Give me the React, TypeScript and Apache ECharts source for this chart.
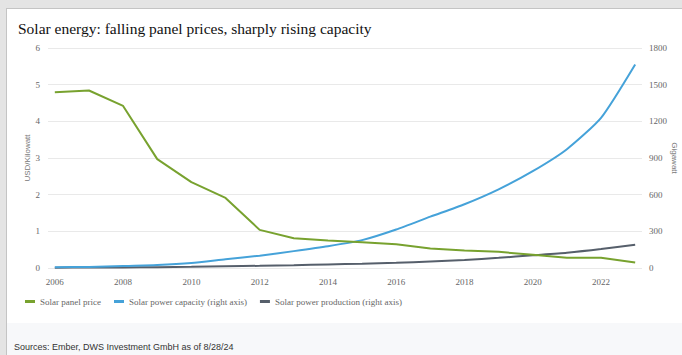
import React, { useEffect, useRef } from "react";
import * as echarts from "echarts";

const years = [2006, 2007, 2008, 2009, 2010, 2011, 2012, 2013, 2014, 2015, 2016, 2017, 2018, 2019, 2020, 2021, 2022, 2023];
const panelPrice = [4.79, 4.84, 4.42, 2.97, 2.34, 1.91, 1.04, 0.81, 0.75, 0.7, 0.65, 0.53, 0.48, 0.44, 0.36, 0.28, 0.28, 0.15];
const capacity = [6, 9, 16, 24, 41, 72, 101, 138, 178, 228, 315, 420, 522, 644, 792, 972, 1228, 1665];
const production = [3, 4, 5, 7, 10, 14, 18, 23, 29, 35, 42, 53, 65, 83, 104, 125, 155, 191];
const xTicks = [2006, 2008, 2010, 2012, 2014, 2016, 2018, 2020, 2022];

const GREEN = "#78a22f";
const BLUE = "#45a2d9";
const GREY = "#565f6b";
const SERIF = "'Liberation Serif', 'DejaVu Serif', serif";
const SANS = "'Liberation Sans', Arial, sans-serif";

export default function App() {
  const ref = useRef<HTMLDivElement>(null);
  useEffect(() => {
    document.body.style.margin = "0";
    const chart = echarts.init(ref.current!, null, { renderer: "svg" });
    const pair = (vals: number[]) => years.map((y, i) => [y, vals[i]]);
    chart.setOption({
      animation: false,
      title: {
        text: "Solar energy: falling panel prices, sharply rising capacity",
        left: 13,
        top: 15,
        textStyle: { fontFamily: SERIF, fontSize: 15.5, fontWeight: "normal", color: "#111" },
      },
      legend: {
        left: 20,
        top: 292,
        itemWidth: 10,
        itemHeight: 3,
        itemGap: 13,
        icon: "rect",
        textStyle: { fontFamily: SERIF, fontSize: 9, color: "#666" },
        data: ["Solar panel price", "Solar power capacity (right axis)", "Solar power production (right axis)"],
      },
      graphic: [
        {
          type: "text",
          left: 14,
          top: 342,
          style: { text: "Sources: Ember, DWS Investment GmbH as of 8/28/24", fontFamily: SANS, fontSize: 9, fill: "#333" },
        },
        {
          type: "text",
          x: 27,
          y: 158,
          rotation: Math.PI / 2,
          style: {
            text: "USD/Kilowatt",
            align: "center",
            verticalAlign: "middle",
            fontFamily: SANS,
            fontSize: 8,
            fill: "#777",
          },
        },
        {
          type: "text",
          x: 674,
          y: 158,
          rotation: -Math.PI / 2,
          style: {
            text: "Gigawatt",
            align: "center",
            verticalAlign: "middle",
            fontFamily: SANS,
            fontSize: 8,
            fill: "#777",
          },
        },
      ],
      grid: { left: 48, right: 40, top: 48, bottom: 87, containLabel: false },
      xAxis: {
        type: "value",
        min: 2005.8,
        max: 2023.2,
        splitLine: { show: false },
        axisLine: { show: false },
        axisTick: { show: false },
        axisLabel: {
          customValues: xTicks,
          margin: 9,
          fontFamily: SERIF,
          fontSize: 9,
          color: "#666",
          formatter: (v: number) => String(v),
        },
      },
      yAxis: [
        {
          type: "value",
          min: 0,
          max: 6,
          interval: 1,
          axisLine: { show: false },
          axisTick: { show: false },
          axisLabel: { margin: 8, fontFamily: SERIF, fontSize: 9, color: "#666" },
          splitLine: { lineStyle: { color: "#e9e9e9", width: 1 } },
        },
        {
          type: "value",
          min: 0,
          max: 1800,
          interval: 300,
          position: "right",
          axisLine: { show: false },
          axisTick: { show: false },
          axisLabel: {
            margin: 7,
            fontFamily: SERIF,
            fontSize: 9,
            color: "#666",
            formatter: (v: number) => String(v),
          },
          splitLine: { show: false },
        },
      ],
      series: [
        {
          name: "Solar panel price",
          type: "line",
          yAxisIndex: 0,
          data: pair(panelPrice),
          showSymbol: false,
          lineStyle: { color: GREEN, width: 2 },
          itemStyle: { color: GREEN },
          z: 3,
        },
        {
          name: "Solar power capacity (right axis)",
          type: "line",
          yAxisIndex: 1,
          data: pair(capacity),
          showSymbol: false,
          smooth: 0.2,
          lineStyle: { color: BLUE, width: 2 },
          itemStyle: { color: BLUE },
          z: 2,
        },
        {
          name: "Solar power production (right axis)",
          type: "line",
          yAxisIndex: 1,
          data: pair(production),
          showSymbol: false,
          smooth: 0.2,
          lineStyle: { color: GREY, width: 2 },
          itemStyle: { color: GREY },
          z: 1,
        },
      ],
    });
    return () => chart.dispose();
  }, []);

  return (
    <div style={{ position: "fixed", left: 0, top: 0, width: 682, height: 355, background: "#e4e4e4", overflow: "hidden" }}>
      <div
        style={{
          position: "absolute",
          left: 6,
          top: 8,
          width: 676,
          height: 347,
          background: "#ffffff",
          borderLeft: "1px solid #c4c4c4",
          borderTop: "1px solid #c4c4c4",
        }}
      />
      <div style={{ position: "absolute", left: 7, top: 323, width: 675, height: 32, background: "#f7f8fa" }} />
      <div ref={ref} style={{ position: "absolute", left: 0, top: 0, width: 682, height: 355 }} />
    </div>
  );
}
